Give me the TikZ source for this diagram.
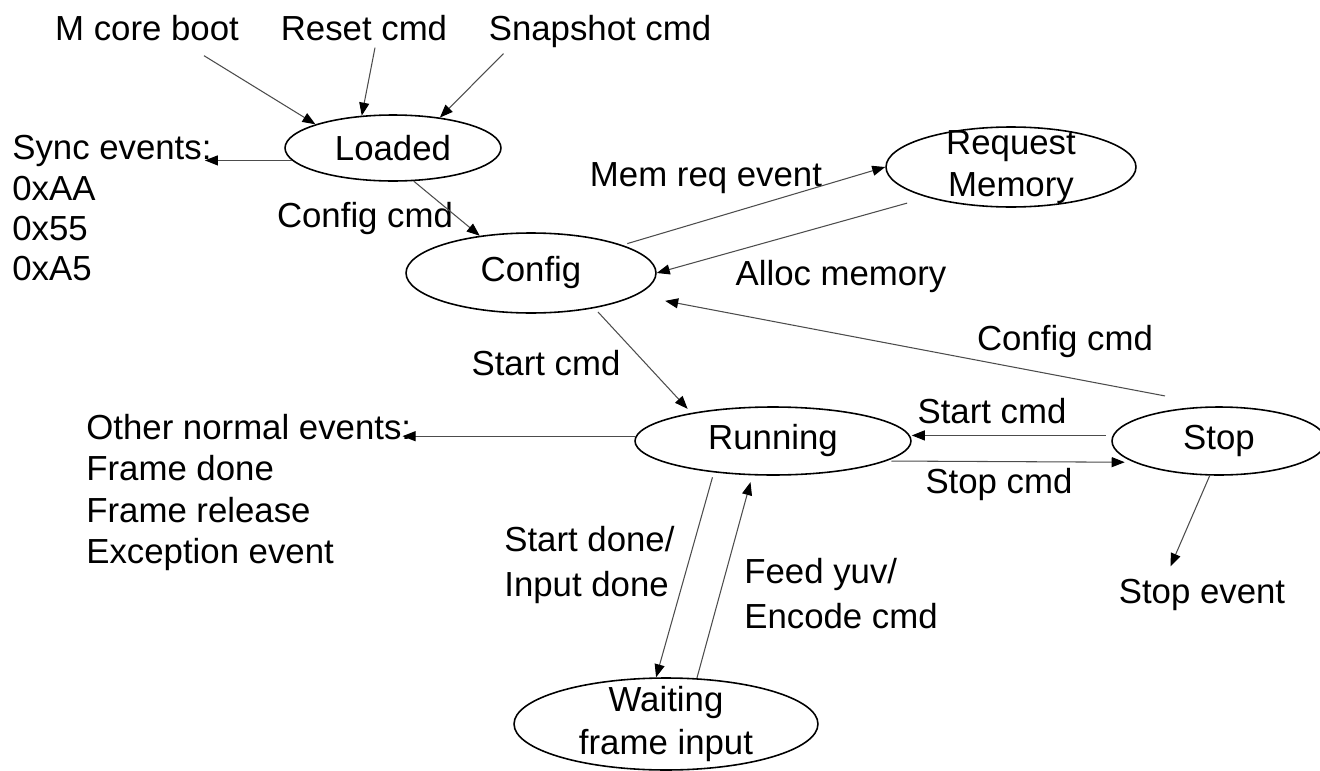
\documentclass[tikz,border=0pt]{standalone}
\usepackage{fontspec}
\setmainfont{Liberation Sans}
\usetikzlibrary{shapes.geometric,arrows.meta}

\begin{document}
\begin{tikzpicture}[x=0.02cm,y=-0.02cm,
    font=\fontsize{19.8}{24}\selectfont,
    state/.style={draw,ellipse,line width=0.9pt,inner sep=0pt},
    txt/.style={inner sep=0pt,anchor=base},
    blk/.style={inner sep=0pt,anchor=north west,align=left},
    trans/.style={draw=black!70,line width=0.6pt,-{Triangle[length=2.6mm,width=2mm,color=black]}}]
    \clip (0,0) rectangle (1320,771);

    \node[state,minimum width=4.32cm,minimum height=1.32cm] (loaded) at (393,148) {Loaded};
    \node[state,minimum width=5cm,minimum height=1.6cm] (config) at (531,273) {Config};
    \node[state,minimum width=5cm,minimum height=1.6cm,
	label={[align=center]center:Request\\Memory}] (reqmem) at (1011,167) {};
    \node[state,minimum width=5.52cm,minimum height=1.36cm] (running) at (773,441) {Running};
    \node[state,minimum width=4.28cm,minimum height=1.36cm] (stop) at (1219,441) {Stop};
    \node[state,minimum width=6.08cm,minimum height=1.84cm,
	label={[align=center]center:Waiting\\frame input}] (waiting) at (666,724) {};

    \node[txt] (mboot) at (147,40) {M core boot};
    \node[txt] (reset) at (364,40) {Reset cmd};
    \node[txt] (snap) at (600,40) {Snapshot cmd};
    \node[blk,font=\fontsize{19.8}{23}\selectfont] (sync) at (12,135) {Sync events:\\0xAA\\0x55\\0xA5};
    \node[txt] (cfgcmd) at (365,227) {Config cmd};
    \node[txt] (memreq) at (706,186) {Mem req event};
    \node[txt] (alloc) at (841,285) {Alloc memory};
    \node[txt] (cfgcmdb) at (1065,350) {Config cmd};
    \node[txt] (startcmd) at (546,375) {Start cmd};
    \node[blk,font=\fontsize{19.8}{23.5}\selectfont] (other) at (86,414)
	{Other normal events:\\Frame done\\Frame release\\Exception event};
    \node[txt] (startcmdb) at (992,423) {Start cmd};
    \node[txt] (stopcmd) at (999,493) {Stop cmd};
    \node[blk,font=\fontsize{19.8}{25.5}\selectfont] (startdone) at (504,526) {Start done/\\Input done};
    \node[blk,font=\fontsize{19.8}{25.5}\selectfont] (feed) at (744,558) {Feed yuv/\\Encode cmd};
    \node[txt] (stopev) at (1202,603) {Stop event};

    \draw[trans] ([shift={(57,15)}]mboot.south) -- (loaded.163.6);
    \draw[trans] ([shift={(11,7)}]reset.south) -- (loaded.134.4);
    \draw[trans] ([shift={(15,6)}]snap.south west) -- (loaded.33.7);
    \draw[trans,shorten >=-0.14cm] (loaded.187.5) -- (loaded.187.5 -| sync.east);
    \draw[trans] (loaded.-58.3) -- (config.144.4);
    \draw[trans,shorten <=0.1cm] (config.17.2) -- (reqmem.west);
    \draw[trans,shorten <=0.42cm] (reqmem.200.6) -- (config.east);
    \draw[trans,shorten <=1.1cm,shorten >=0.59cm] (stop.north) -- (config.-12.8);
    \draw[trans,shorten <=0.1cm,shorten >=0.11cm] (config.-29.2) -- (running.161.3);
    \draw[trans,shorten >=-0.18cm] (running.178) -- (running.178 -| other.east);
    \draw[trans,shorten <=0.14cm] (stop.177) -- (stop.177 -| running.east);
    \draw[trans,shorten <=0.1cm,shorten >=0.18cm] (running.-10.95) -- (stop.194);
    \draw[trans] (stop.-105.5) -- ([shift={(52,-12)}]stopev.north west);
    \draw[trans,shorten <=0.1cm] (running.208.1) -- (waiting.102.3);
    \draw[trans,shorten >=0.14cm] (waiting.56.3) -- (running.239.2);
\end{tikzpicture}
\end{document}
